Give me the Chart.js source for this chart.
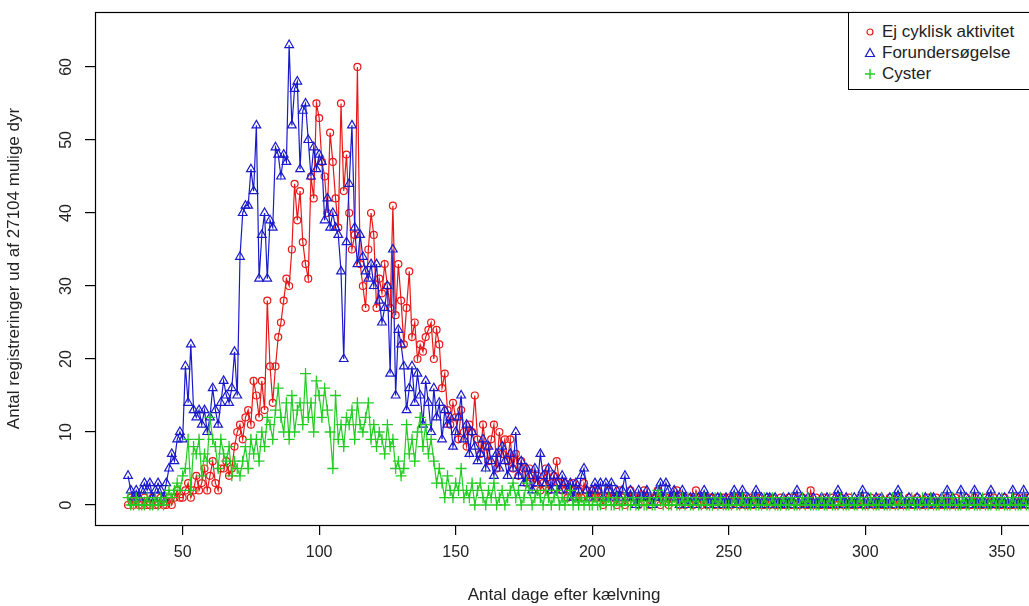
<!DOCTYPE html>
<html>
<head>
<meta charset="utf-8">
<script src="https://cdn.jsdelivr.net/npm/chart.js@4.4.1/dist/chart.umd.min.js"></script>
<style>
  body { margin: 0; background: #fff; overflow: hidden; width: 1029px; height: 606px; }
  #wrap { position: relative; width: 1040px; height: 606px; }
  #legend {
    position: absolute; left: 848px; top: 12px; width: 200px; height: 76px;
    border: 1px solid #000; background: #fff;
    font-family: "Liberation Sans", Arial, sans-serif; font-size: 17px; color: #222;
  }
  #legend .row { position: absolute; left: 0; height: 20px; line-height: 20px; white-space: nowrap; }
  #legend svg { position: absolute; left: 13px; top: 2px; }
  #legend span { position: absolute; left: 33px; top: 0; }
</style>
</head>
<body>
<div id="wrap">
  <canvas id="mycanvas" width="1040" height="606"></canvas>
  <div id="legend">
    <div class="row" style="top:9px"><svg width="16" height="16"><circle cx="8" cy="8" r="3" fill="none" stroke="#e81818" stroke-width="1.2"/></svg><span>Ej cyklisk aktivitet</span></div>
    <div class="row" style="top:30px"><svg width="16" height="16"><polygon points="8,3.5 12.5,11.5 3.5,11.5" fill="none" stroke="#1a1acc" stroke-width="1.2"/></svg><span>Forundersøgelse</span></div>
    <div class="row" style="top:51px"><svg width="16" height="16"><path d="M3 8 H13 M8 3 V13" stroke="#22cc22" stroke-width="1.4"/></svg><span>Cyster</span></div>
  </div>
</div>
<script>
// dage efter kaelvning: foerste dag i serierne
var firstDay = 30;

var xTicks = [50, 100, 150, 200, 250, 300, 350];
var yTicks = [0, 10, 20, 30, 40, 50, 60];

// Ej cyklisk aktivitet (dag 30 ... 360)
var ejCyklisk = [
  0,1,0,1,0,0,1,0,0,1,
  0,0,1,0,0,1,0,1,2,1,
  1,2,3,1,2,4,2,3,5,2,
  4,6,3,2,5,5,6,4,5,8,
  10,11,9,12,13,11,17,15,12,17,
  13,28,19,14,19,23,25,28,31,30,
  35,44,39,43,36,33,31,45,42,55,
  53,47,45,40,51,47,42,38,55,43,
  48,40,35,37,60,33,30,27,35,40,
  37,27,31,29,33,30,27,41,26,33,
  28,22,27,32,23,25,20,22,21,23,
  24,25,20,24,22,16,18,13,11,14,
  12,9,13,10,8,11,10,15,9,7,
  11,8,6,9,11,5,10,7,9,6,
  9,5,7,4,6,5,3,5,4,3,
  4,2,3,5,2,3,4,6,3,2,
  3,1,2,3,1,2,1,3,2,1,
  2,1,2,1,0,1,2,1,1,0,
  2,1,0,1,2,1,1,0,1,2,
  1,0,1,1,2,0,1,1,0,1,
  1,2,0,1,0,1,1,0,2,1,
  0,1,0,1,1,0,1,0,1,0,
  1,0,1,1,0,1,0,0,1,0,
  1,1,0,0,1,0,1,0,0,1,
  0,0,1,0,1,0,0,1,0,0,
  2,0,1,0,0,1,0,0,1,0,
  0,1,0,0,1,0,0,0,1,0,
  0,0,1,0,0,1,0,0,0,1,
  0,0,1,0,0,0,1,0,0,1,
  0,0,0,1,0,0,1,0,0,0,
  1,0,0,1,0,0,0,1,0,0,
  1,0,0,0,1,0,0,1,0,0,
  0,1,0,0,0,1,0,0,1,0,
  1
];

// Forundersoegelse
var forunders = [
  4,2,1,2,1,2,3,2,3,1,
  2,3,2,1,3,5,7,6,9,10,
  9,19,14,22,13,12,13,11,13,10,
  12,16,13,11,14,17,15,14,16,21,
  15,34,40,41,41,46,43,52,31,37,
  40,31,39,38,49,48,45,48,47,63,
  52,57,58,46,54,55,50,45,49,46,
  48,47,39,42,38,40,38,37,32,20,
  36,44,52,38,33,37,34,32,31,33,
  30,33,28,25,27,30,18,35,15,24,
  22,19,13,16,19,14,18,15,11,17,
  14,10,16,12,14,9,13,11,12,8,
  10,12,15,9,11,7,10,8,6,7,
  9,5,8,6,4,7,5,8,6,4,
  7,5,10,4,6,3,5,4,2,5,
  3,7,4,3,5,2,4,3,2,4,
  3,2,3,1,3,2,4,5,2,1,
  2,3,2,3,1,3,2,3,1,2,
  1,2,4,1,2,1,0,2,1,1,
  2,1,0,1,2,3,1,3,2,1,
  2,1,0,2,1,0,1,1,0,1,
  1,2,1,0,1,0,1,1,0,1,
  0,1,2,0,1,2,0,1,0,1,
  2,0,1,0,1,1,0,1,0,0,
  1,0,1,0,1,2,0,1,0,1,
  0,1,0,0,1,0,1,0,0,1,
  2,1,0,1,0,0,1,0,1,2,
  0,1,0,0,1,0,1,0,0,1,
  0,1,2,1,0,0,1,0,0,1,
  0,0,1,0,1,1,0,0,1,0,
  2,0,1,0,0,2,0,1,0,0,
  2,0,1,0,0,1,2,0,0,1,
  0,1,0,0,2,0,1,0,2,0,
  1
];

// Cyster
var cyster = [
  1,0,0,1,0,0,0,1,0,0,
  1,0,1,0,1,2,1,2,3,2,
  4,5,9,2,8,7,9,4,7,6,
  12,9,8,5,9,7,6,8,4,6,
  5,4,6,8,5,9,7,9,6,10,
  8,12,11,9,13,16,12,10,14,9,
  15,10,13,14,11,18,12,14,10,17,
  15,12,16,13,10,5,15,9,11,8,
  12,11,13,9,14,11,10,12,14,9,
  11,8,10,9,7,11,8,9,5,6,
  4,5,11,7,9,6,10,12,8,11,
  7,9,6,3,5,3,1,4,2,1,
  3,2,5,1,2,1,3,0,2,3,
  1,0,2,1,3,0,1,2,0,1,
  2,3,1,2,0,1,3,2,0,1,
  2,1,0,2,1,0,1,2,0,1,
  0,1,2,0,1,0,1,0,1,0,
  0,1,0,0,1,0,1,0,0,1,
  0,0,1,0,0,1,0,0,1,0,
  0,1,0,0,2,1,0,1,0,0,
  1,0,0,1,0,1,0,0,1,0,
  0,1,0,0,0,1,0,1,0,0,
  0,0,1,0,0,1,0,0,0,1,
  0,0,0,1,0,0,1,0,0,0,
  1,0,0,1,0,0,0,1,0,1,
  0,0,0,0,1,0,0,1,0,0,
  0,1,0,0,0,1,0,0,1,0,
  0,0,1,0,0,0,1,0,0,0,
  1,0,0,1,0,0,0,1,0,0,
  0,1,0,0,1,0,0,0,1,0,
  0,0,1,0,0,0,1,0,0,1,
  0,0,0,1,0,0,0,1,0,0,
  1,0,0,0,1,0,0,0,1,0,
  0
];

function toPoints(values) {
  var pts = [];
  for (var i = 0; i < values.length; i++) {
    pts.push({ x: firstDay + i, y: values[i] });
  }
  return pts;
}

// ramme rundt om plotomraadet (som i R)
var boxPlugin = {
  id: 'box',
  afterDraw: function(chart) {
    var a = chart.chartArea, c = chart.ctx;
    c.save();
    c.strokeStyle = '#000';
    c.lineWidth = 1.2;
    c.strokeRect(Math.round(a.left) + 0.5, Math.round(a.top) + 0.5,
                 Math.round(a.right - a.left), Math.round(a.bottom - a.top));
    c.restore();
  }
};

function noPad(s) {
  s.paddingTop = 0; s.paddingBottom = 0; s.paddingLeft = 0; s.paddingRight = 0;
}

Chart.defaults.font.family = '"Liberation Sans", Arial, sans-serif';
Chart.defaults.font.size = 16;
Chart.defaults.color = '#222';

var ctx = document.getElementById('mycanvas');

var chartdata = {
  datasets: [
    {
      label: 'Ej cyklisk aktivitet',
      data: toPoints(ejCyklisk),
      borderColor: '#e81818',
      backgroundColor: 'rgba(0,0,0,0)',
      borderWidth: 1.2,
      pointStyle: 'circle',
      pointRadius: 3.5,
      pointBorderWidth: 1.2,
      order: 2
    },
    {
      label: 'Forundersøgelse',
      data: toPoints(forunders),
      borderColor: '#1a1acc',
      backgroundColor: 'rgba(0,0,0,0)',
      borderWidth: 1.2,
      pointStyle: 'triangle',
      pointRadius: 5,
      pointBorderWidth: 1.2,
      order: 1
    },
    {
      label: 'Cyster',
      data: toPoints(cyster),
      borderColor: '#22cc22',
      backgroundColor: 'rgba(0,0,0,0)',
      borderWidth: 1.2,
      pointStyle: 'cross',
      pointRadius: 5.5,
      pointBorderWidth: 1.3,
      order: 0
    }
  ]
};

var lineGraph = new Chart(ctx, {
  type: 'line',
  data: chartdata,
  plugins: [boxPlugin],
  options: {
    responsive: false,
    animation: false,
    events: [],
    layout: { padding: { left: 0, top: 12, right: 4, bottom: 0 } },
    elements: { line: { tension: 0 } },
    plugins: { legend: { display: false }, tooltip: { enabled: false } },
    scales: {
      x: {
        type: 'linear',
        min: 17.9,
        max: 361.5,
        afterBuildTicks: function(s) { s.ticks = xTicks.map(function(v) { return { value: v }; }); },
        afterFit: function(s) { s.height = 81; noPad(s); },
        border: { display: false },
        grid: { drawOnChartArea: false, drawTicks: true, tickLength: 10, color: '#000', lineWidth: 1.2 },
        ticks: { padding: 8, maxRotation: 0, color: '#222' },
        title: { display: true, text: 'Antal dage efter kælvning', color: '#222', font: { size: 17 }, padding: { top: 0, bottom: 0 } }
      },
      y: {
        min: -2.74,
        max: 67.53,
        afterBuildTicks: function(s) { s.ticks = yTicks.map(function(v) { return { value: v }; }); },
        afterFit: function(s) { s.width = 95; noPad(s); },
        border: { display: false },
        grid: { drawOnChartArea: false, drawTicks: true, tickLength: 10, color: '#000', lineWidth: 1.2 },
        ticks: { padding: 10, minRotation: 90, maxRotation: 90, crossAlign: 'center', color: '#222' },
        title: { display: true, text: 'Antal registreringer ud af 27104 mulige dyr', color: '#222', font: { size: 17 }, padding: { top: 4, bottom: 0 } }
      }
    }
  }
});
</script>
</body>
</html>
